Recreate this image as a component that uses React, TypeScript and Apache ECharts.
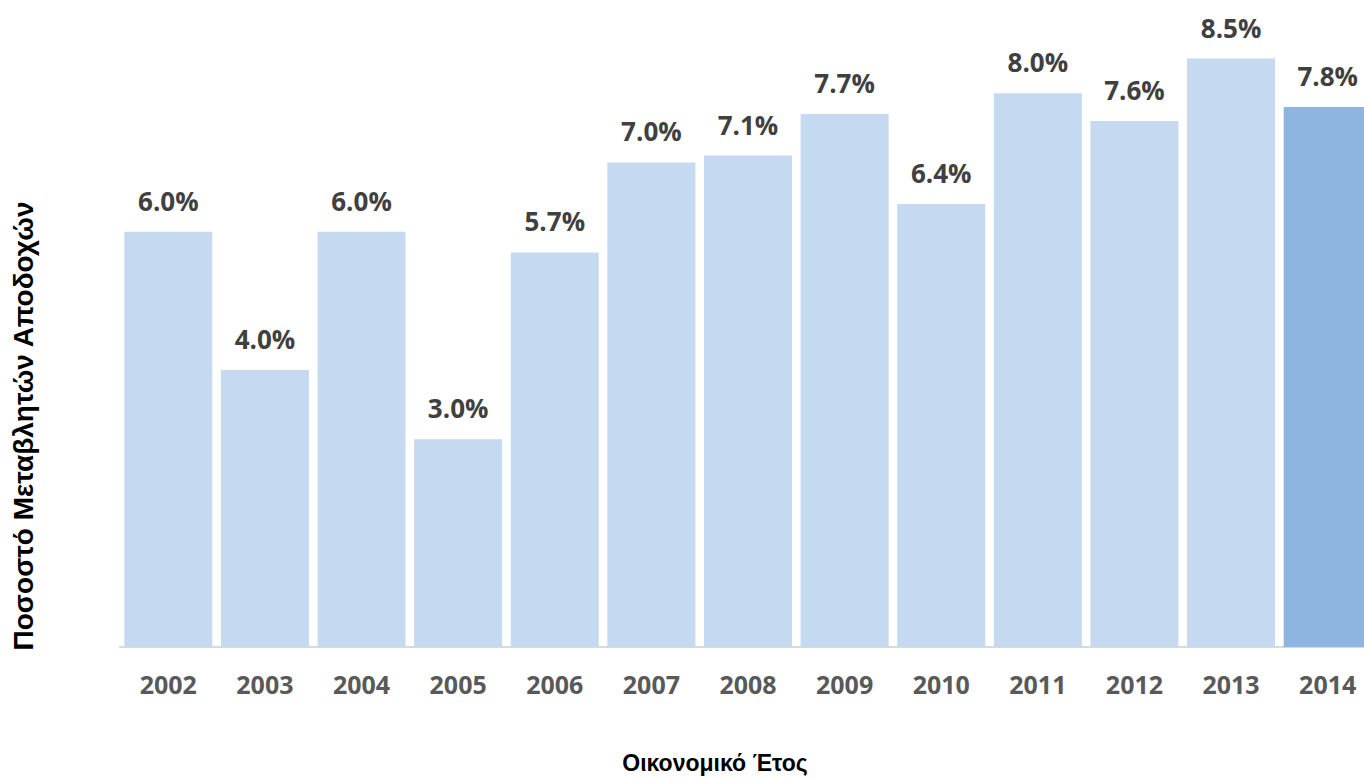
import React, { useEffect, useRef } from "react";
import * as echarts from "echarts";

const years = ["2002", "2003", "2004", "2005", "2006", "2007", "2008", "2009", "2010", "2011", "2012", "2013", "2014"];
const values = [6.0, 4.0, 6.0, 3.0, 5.7, 7.0, 7.1, 7.7, 6.4, 8.0, 7.6, 8.5, 7.8];
const highlightYear = "2014";
const yTitle = "Ποσοστό Μεταβλητών Αποδοχών";
const xTitle = "Οικονομικό Έτος";

export default function App() {
  const ref = useRef<HTMLDivElement>(null);
  useEffect(() => {
    if (!ref.current) return;
    const chart = echarts.init(ref.current, null, { renderer: "svg" });
    chart.setOption({
      animation: false,
      grid: { left: 120, top: 24, width: 1256, height: 623 },
      xAxis: {
        type: "category",
        data: years,
        axisLine: { lineStyle: { color: "#d9d9d9", width: 2 } },
        axisTick: { show: false },
        axisLabel: {
          margin: 24,
          color: "#595959",
          fontFamily: "Open Sans",
          fontWeight: "bold",
          fontSize: 25,
        },
      },
      yAxis: {
        type: "value",
        min: 0,
        max: 9,
        show: false,
        splitLine: { show: false },
      },
      series: [
        {
          type: "bar",
          barWidth: 88,
          data: values.map((v, i) => ({
            value: v,
            itemStyle: { color: years[i] === highlightYear ? "#8eb4e0" : "#c5d9f0" },
          })),
          label: {
            show: true,
            position: "top",
            distance: 18,
            color: "#404040",
            fontFamily: "Open Sans",
            fontWeight: "bold",
            fontSize: 26,
            formatter: (p: any) => p.value.toFixed(1) + "%",
          },
        },
      ],
      graphic: [
        {
          type: "text",
          x: 23,
          y: 426,
          rotation: Math.PI / 2,
          style: {
            text: yTitle,
            fill: "#000000",
            font: "bold 28px 'Liberation Sans', Arial, sans-serif",
            align: "center",
            verticalAlign: "middle",
          },
        },
        {
          type: "text",
          x: 715,
          y: 763,
          style: {
            text: xTitle,
            fill: "#000000",
            font: "bold 23px 'Liberation Sans', Arial, sans-serif",
            align: "center",
            verticalAlign: "middle",
          },
        },
      ],
    });
    return () => chart.dispose();
  }, []);
  return (
    <div
      ref={ref}
      style={{ position: "fixed", left: 0, top: 0, width: 1380, height: 779, background: "#fff" }}
    />
  );
}
